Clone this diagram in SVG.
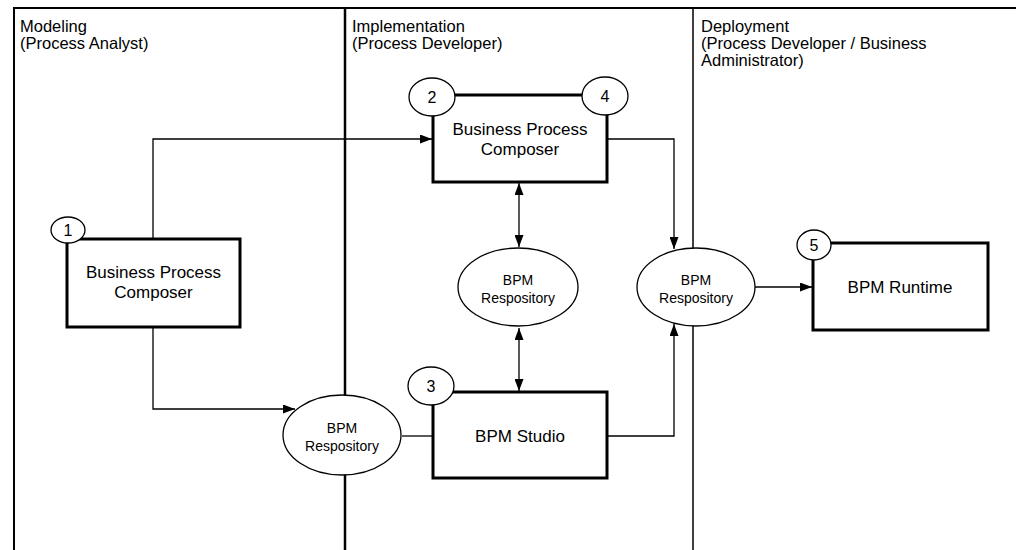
<svg xmlns="http://www.w3.org/2000/svg" width="1016" height="550" viewBox="0 0 1016 550">
<defs>
<style>
text{font-family:"Liberation Sans",Arial,sans-serif;fill:#000}
.hdr{font-size:16.5px}
.lbl{font-size:17px;text-anchor:middle}
.sm{font-size:14px;text-anchor:middle}
.num{font-size:16px;text-anchor:middle}
.box{fill:#fff;stroke:#000;stroke-width:3}
.rep{fill:#fff;stroke:#000;stroke-width:1.3}
.tag{fill:#fff;stroke:#000;stroke-width:1.3}
.con{fill:none;stroke:#000;stroke-width:1.3}
.frame{fill:none;stroke:#000}
</style>
<marker id="arr" viewBox="0 0 12 9" refX="12" refY="4.5" markerWidth="12" markerHeight="9" markerUnits="userSpaceOnUse" orient="auto-start-reverse">
<path d="M0,0 L12,4.5 L0,9 z" fill="#000"/>
</marker>
</defs>
<rect width="1016" height="550" fill="#fff"/>
<g id="lanes">
<path class="frame" stroke-width="2" d="M14,550 V8 H1016"/>
<line class="frame" stroke-width="2.5" x1="345" y1="8" x2="345" y2="550"/>
<line class="frame" stroke-width="1.5" x1="693" y1="8" x2="693" y2="550"/>
<text class="hdr" x="20" y="32">Modeling</text>
<text class="hdr" x="20" y="49">(Process Analyst)</text>
<text class="hdr" x="352" y="32">Implementation</text>
<text class="hdr" x="352" y="49">(Process Developer)</text>
<text class="hdr" x="701" y="32">Deployment</text>
<text class="hdr" x="701" y="49">(Process Developer / Business</text>
<text class="hdr" x="701" y="66">Administrator)</text>
</g>
<g id="connectors">
<path class="con" d="M153,239 V139 H432" marker-end="url(#arr)"/>
<path class="con" d="M153,327 V409 H295" marker-end="url(#arr)"/>
<path class="con" d="M402,436 H433"/>
<path class="con" d="M607,139 H674 V249" marker-end="url(#arr)"/>
<path class="con" d="M607,436 H674 V324" marker-end="url(#arr)"/>
<path class="con" d="M755,287 H812" marker-end="url(#arr)"/>
<path class="con" d="M519,183 V247" marker-start="url(#arr)" marker-end="url(#arr)"/>
<path class="con" d="M519,328 V391" marker-start="url(#arr)" marker-end="url(#arr)"/>
</g>
<g id="node1">
<rect class="box" x="67" y="239" width="173" height="88"/>
<text class="lbl" x="153.5" y="278">Business Process</text>
<text class="lbl" x="153.5" y="298">Composer</text>
<ellipse class="tag" cx="68" cy="230" rx="17" ry="13"/>
<text class="num" x="68" y="236">1</text>
</g>
<g id="node2">
<rect class="box" x="433" y="95" width="174" height="87"/>
<text class="lbl" x="520" y="135">Business Process</text>
<text class="lbl" x="520" y="155">Composer</text>
<ellipse class="tag" cx="432" cy="97" rx="23" ry="19"/>
<text class="num" x="432" y="103">2</text>
<ellipse class="tag" cx="605" cy="96" rx="23" ry="19"/>
<text class="num" x="605" y="102">4</text>
</g>
<g id="node3">
<rect class="box" x="433" y="392" width="174" height="86"/>
<text class="lbl" x="520" y="442">BPM Studio</text>
<ellipse class="tag" cx="431" cy="386" rx="23" ry="19"/>
<text class="num" x="431" y="392">3</text>
</g>
<g id="node5">
<rect class="box" x="813" y="243" width="175" height="87"/>
<text class="lbl" x="900" y="293">BPM Runtime</text>
<ellipse class="tag" cx="814" cy="245" rx="17" ry="15"/>
<text class="num" x="814" y="251">5</text>
</g>
<g id="repo-left">
<ellipse class="rep" cx="342" cy="435" rx="59" ry="40"/>
<text class="sm" x="342" y="433">BPM</text>
<text class="sm" x="342" y="451">Respository</text>
</g>
<g id="repo-mid">
<ellipse class="rep" cx="518" cy="287" rx="60" ry="39"/>
<text class="sm" x="518" y="285">BPM</text>
<text class="sm" x="518" y="303">Respository</text>
</g>
<g id="repo-right">
<ellipse class="rep" cx="696" cy="287" rx="59" ry="39"/>
<text class="sm" x="696" y="285">BPM</text>
<text class="sm" x="696" y="303">Respository</text>
</g>
</svg>
